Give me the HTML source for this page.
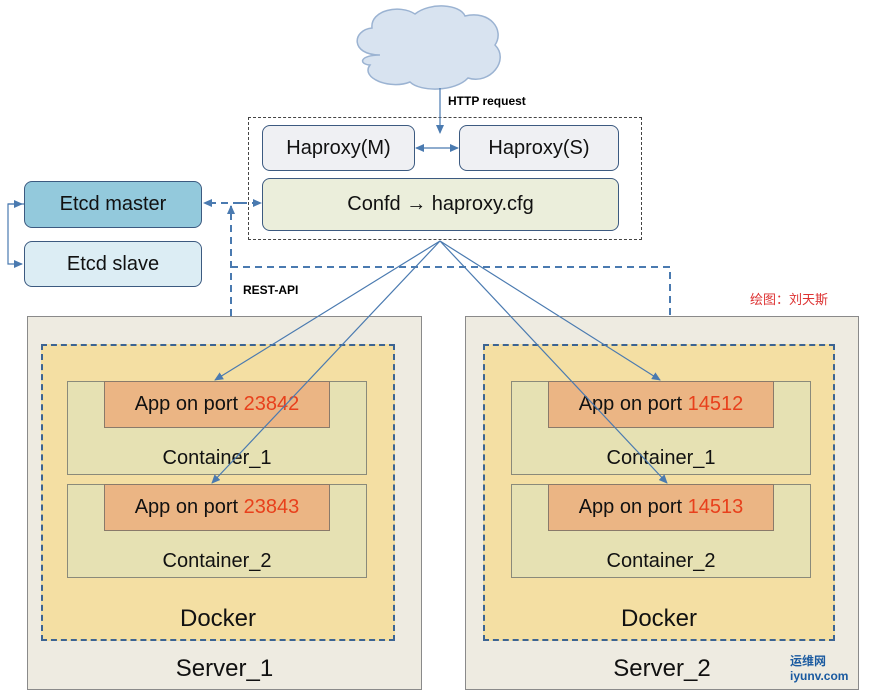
<!DOCTYPE html>
<html><head><style>
body{margin:0;width:872px;height:696px;background:#fff;position:relative;overflow:hidden;font-family:"Liberation Sans","Noto Sans CJK SC",sans-serif;}
.b{position:absolute;box-sizing:border-box;display:flex;align-items:center;justify-content:center;color:#111;}
.r{border-radius:8px;}
.p{color:#e8401c}
</style></head><body>
<div class="b" style="left:27px;top:316px;width:395px;height:374px;background:#eeebe1;border:1px solid #8a8a8a;align-items:flex-end;padding-bottom:6px;font-size:24px">Server_1</div>
<div class="b" style="left:465px;top:316px;width:394px;height:374px;background:#eeebe1;border:1px solid #8a8a8a;align-items:flex-end;padding-bottom:6px;font-size:24px">Server_2</div>
<div class="b" style="left:41px;top:344px;width:354px;height:297px;background:#f4dfa3;border:2px dashed #3c6493;align-items:flex-end;padding-bottom:6px;font-size:24px">Docker</div>
<div class="b" style="left:483px;top:344px;width:352px;height:297px;background:#f4dfa3;border:2px dashed #3c6493;align-items:flex-end;padding-bottom:6px;font-size:24px">Docker</div>

<div class="b" style="left:67px;top:381px;width:300px;height:94px;background:#e6e1b3;border:1px solid #8a8a7a;align-items:flex-end;padding-bottom:4px;font-size:20px">Container_1</div>
<div class="b" style="left:67px;top:484px;width:300px;height:94px;background:#e6e1b3;border:1px solid #8a8a7a;align-items:flex-end;padding-bottom:4px;font-size:20px">Container_2</div>
<div class="b" style="left:511px;top:381px;width:300px;height:94px;background:#e6e1b3;border:1px solid #8a8a7a;align-items:flex-end;padding-bottom:4px;font-size:20px">Container_1</div>
<div class="b" style="left:511px;top:484px;width:300px;height:94px;background:#e6e1b3;border:1px solid #8a8a7a;align-items:flex-end;padding-bottom:4px;font-size:20px">Container_2</div>

<div class="b" style="left:104px;top:381px;width:226px;height:47px;background:#ebb584;border:1px solid #8a7a6a;font-size:20px">App on port&nbsp;<span class="p">23842</span></div>
<div class="b" style="left:104px;top:484px;width:226px;height:47px;background:#ebb584;border:1px solid #8a7a6a;font-size:20px">App on port&nbsp;<span class="p">23843</span></div>
<div class="b" style="left:548px;top:381px;width:226px;height:47px;background:#ebb584;border:1px solid #8a7a6a;font-size:20px">App on port&nbsp;<span class="p">14512</span></div>
<div class="b" style="left:548px;top:484px;width:226px;height:47px;background:#ebb584;border:1px solid #8a7a6a;font-size:20px">App on port&nbsp;<span class="p">14513</span></div>

<div class="b" style="left:248px;top:117px;width:394px;height:123px;border:1px dashed #444;"></div>
<div class="b r" style="left:262px;top:125px;width:153px;height:46px;background:#eff0f3;border:1px solid #3c5a80;font-size:20px">Haproxy(M)</div>
<div class="b r" style="left:459px;top:125px;width:160px;height:46px;background:#eff0f3;border:1px solid #3c5a80;font-size:20px">Haproxy(S)</div>
<div class="b r" style="left:262px;top:178px;width:357px;height:53px;background:#ebeedb;border:1px solid #3c5a80;font-size:20px">Confd&nbsp;<b>→</b>&nbsp;haproxy.cfg</div>
<div class="b r" style="left:24px;top:181px;width:178px;height:47px;background:#93c9dc;border:1px solid #3c5a80;font-size:20px">Etcd master</div>
<div class="b r" style="left:24px;top:241px;width:178px;height:46px;background:#dcedf4;border:1px solid #3c5a80;font-size:20px">Etcd slave</div>

<div style="position:absolute;left:448px;top:94px;font-size:12px;font-weight:bold">HTTP request</div>
<div style="position:absolute;left:243px;top:283px;font-size:12px;font-weight:bold">REST-API</div>
<div style="position:absolute;left:750px;top:289px;font-size:13px;color:#d33">绘图：刘天斯</div>
<div style="position:absolute;left:790px;top:652px;font-size:12px;color:#1a5aa0;font-weight:bold">运维网<br>iyunv.com</div>

<svg width="872" height="696" style="position:absolute;left:0;top:0">
<defs><marker id="a" markerUnits="userSpaceOnUse" markerWidth="9" markerHeight="8" refX="8" refY="4" orient="auto"><path d="M0,0 L9,4 L0,8z" fill="#4a7ab0"/></marker></defs>
<path d="M380,55 C350,55 352,30 372,28 C370,10 400,4 415,14 C430,2 460,4 465,16 C490,10 505,30 495,45 C510,60 490,85 468,78 C455,92 420,92 410,82 C390,90 360,78 370,65 C358,64 360,55 380,55z" fill="#d8e3f0" stroke="#9bb3d2" stroke-width="1.5"/>
<g stroke="#4a7ab0" stroke-width="1.2" fill="none">
<line x1="440" y1="88" x2="440" y2="133" marker-end="url(#a)"/>
<line x1="437" y1="148" x2="458" y2="148" marker-end="url(#a)"/>
<line x1="437" y1="148" x2="416" y2="148" marker-end="url(#a)"/>
<path d="M24,204 H8 V264 H22" marker-end="url(#a)"/>
<line x1="8" y1="204" x2="22" y2="204" marker-end="url(#a)"/>
<line x1="440" y1="241" x2="215" y2="380" marker-end="url(#a)"/>
<line x1="440" y1="241" x2="212" y2="483" marker-end="url(#a)"/>
<line x1="440" y1="241" x2="660" y2="380" marker-end="url(#a)"/>
<line x1="440" y1="241" x2="667" y2="483" marker-end="url(#a)"/>
</g>
<g stroke="#4a7ab0" stroke-width="2" fill="none" stroke-dasharray="7,5">
<line x1="240" y1="203" x2="204" y2="203" marker-end="url(#a)"/>
<line x1="240" y1="203" x2="261" y2="203" marker-end="url(#a)"/>
<line x1="231" y1="316" x2="231" y2="206" marker-end="url(#a)"/>
<path d="M231,267 H670 V316"/>
</g>
</svg>
</body></html>
